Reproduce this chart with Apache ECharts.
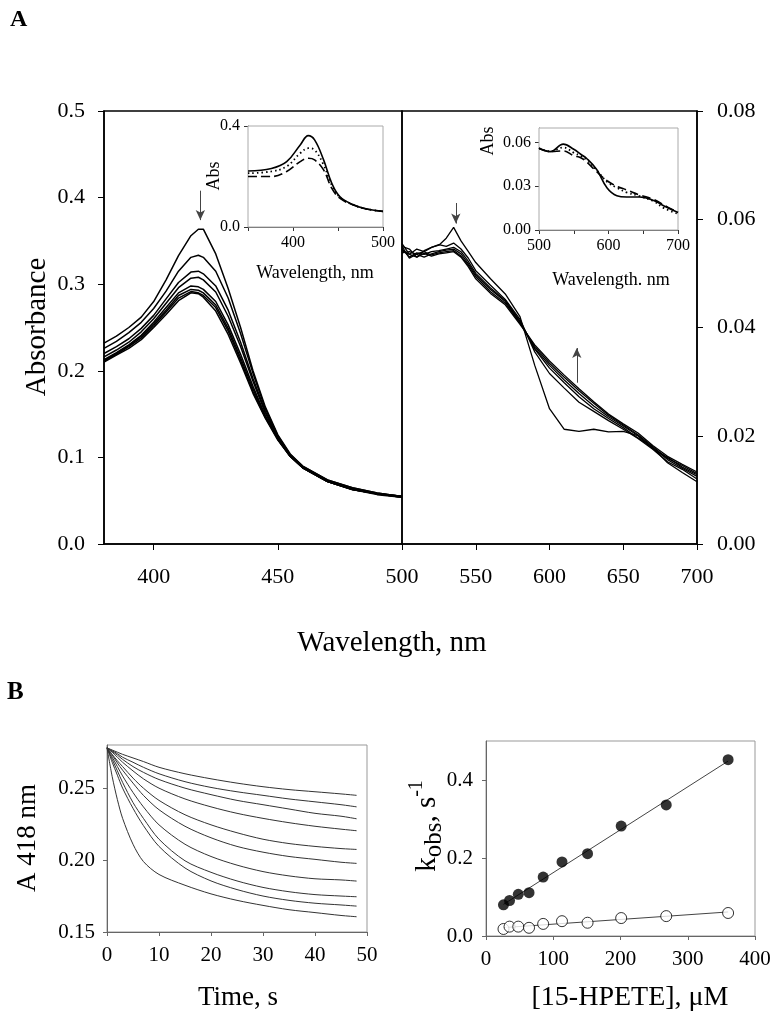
<!DOCTYPE html>
<html><head><meta charset="utf-8">
<script src="https://cdn.jsdelivr.net/npm/echarts@6/dist/echarts.min.js"></script>
<style>html,body{margin:0;padding:0;background:#fff}#c{width:779px;height:1022px}</style>
</head><body><div id="c"></div>
<script>
// ---------- Panel A, main left (Soret region) ----------
const wlSoret = [380,385,390,395,400,405,410,415,418,420,425,430,435,440,445,450,455,460,470,480,490,500];
const soret1 = [.232,.240,.250,.262,.280,.305,.333,.356,.3635,.3635,.335,.295,.250,.200,.158,.126,.104,.090,.074,.065,.059,.055];
const soret2 = [.226,.234,.244,.256,.272,.292,.315,.331,.3335,.331,.315,.284,.243,.197,.156,.125,.103,.090,.074,.065,.059,.055];
const soret3 = [.220,.228,.237,.249,.264,.283,.302,.314,.315,.312,.298,.270,.233,.191,.153,.124,.103,.089,.073,.064,.058,.055];
const soret4 = [.216,.224,.233,.245,.260,.278,.296,.307,.308,.305,.291,.263,.228,.188,.151,.123,.102,.089,.073,.064,.058,.055];
const soret5 = [.213,.221,.230,.241,.256,.273,.290,.298,.297,.294,.280,.253,.219,.182,.148,.122,.102,.088,.072,.063,.058,.054];
const soret6 = [.212,.220,.229,.240,.254,.270,.287,.294,.293,.290,.276,.249,.215,.179,.147,.121,.101,.088,.072,.063,.058,.054];
const soret7 = [.211,.219,.228,.238,.252,.268,.284,.2915,.290,.287,.273,.246,.212,.176,.146,.121,.101,.088,.072,.063,.057,.054];
const soret8 = [.210,.218,.226,.236,.250,.265,.281,.290,.289,.285,.269,.242,.209,.174,.145,.120,.101,.088,.072,.063,.058,.054];
const soretSpectra = [soret1,soret2,soret3,soret4,soret5,soret6,soret7,soret8];

// ---------- Panel A, main right (visible region) ----------
const wlVis = [500,505,510,515,520,525,530,535,540,545,550,560,570,580,590,600,610,620,630,640,650,660,670,680,690,700];
const vis1 = [.0555,.0535,.0545,.0540,.0548,.0552,.0565,.0585,.0560,.0540,.0520,.0490,.0462,.0420,.0330,.0250,.0212,.0208,.0212,.0207,.0208,.0200,.0178,.0150,.0132,.0115];
const vis2 = [.0550,.0545,.0530,.0542,.0548,.0553,.0550,.0556,.0545,.0528,.0505,.0478,.0452,.0415,.0355,.0315,.0288,.0262,.0245,.0228,.0212,.0195,.0175,.0152,.0138,.0120];
const vis3 = [.0545,.0530,.0538,.0535,.0540,.0542,.0545,.0548,.0540,.0522,.0500,.0473,.0450,.0412,.0360,.0325,.0298,.0272,.0250,.0232,.0215,.0196,.0178,.0156,.0140,.0125];
const vis4 = [.0538,.0540,.0535,.0530,.0536,.0540,.0543,.0545,.0536,.0518,.0497,.0470,.0448,.0410,.0362,.0330,.0303,.0278,.0255,.0235,.0218,.0200,.0176,.0160,.0142,.0128];
const vis5 = [.0550,.0528,.0536,.0540,.0534,.0538,.0540,.0542,.0532,.0515,.0494,.0466,.0445,.0408,.0365,.0334,.0308,.0283,.0260,.0238,.0220,.0202,.0180,.0158,.0145,.0130];
const vis6 = [.0542,.0535,.0530,.0537,.0532,.0536,.0538,.0540,.0530,.0512,.0490,.0463,.0442,.0406,.0368,.0338,.0312,.0287,.0263,.0240,.0222,.0205,.0182,.0162,.0147,.0133];
const visSpectra = [vis1,vis2,vis3,vis4,vis5,vis6];

// arrows [x, yFrom, yTo]
const arrowSoret = [418.8, 0.408, 0.374];
const arrowVisDown = [536.5, 0.0630, 0.0592];
const arrowVisUp = [618.5, 0.0298, 0.0362];

// ---------- Inset left ----------
const wlInsetL = [350,376,393,408,417,424,434,443,452,467,482,500];
const insetLSolid  = [.222,.232,.259,.325,.362,.345,.266,.174,.121,.088,.071,.062];
const insetLDotted = [.213,.220,.240,.292,.312,.305,.246,.167,.118,.088,.071,.062];
const insetLDashed = [.200,.200,.220,.259,.272,.266,.226,.154,.114,.087,.071,.062];

// ---------- Inset right ----------
const wlInsetR = [500,516,535,550,560,569,583,598,612,626,645,665,680,700];
const insetRSolid  = [.0561,.0538,.0589,.0554,.0520,.0489,.0415,.0288,.0235,.0226,.0226,.0203,.0165,.0120];
const insetRDotted = [.0561,.0540,.0566,.0530,.0508,.0480,.0410,.0330,.0290,.0258,.0232,.0196,.0150,.0110];
const insetRDashed = [.0561,.0538,.0543,.0510,.0496,.0465,.0400,.0338,.0300,.0275,.0240,.0210,.0170,.0120];

// ---------- Panel B left: A418 traces ----------
const timeS = [0,1,2,3,5,7,10,15,20,25,30,35,40,45,48];
const trace1  = [.278,.2765,.275,.2735,.271,.2685,.2645,.260,.2565,.2535,.251,.249,.2475,.246,.245];
const trace2  = [.278,.276,.274,.2715,.268,.2645,.260,.2545,.2505,.2475,.245,.2425,.2405,.2385,.237];
const trace3  = [.278,.2755,.273,.270,.265,.261,.256,.250,.2455,.2415,.2385,.2355,.2325,.2305,.2287];
const trace4  = [.278,.275,.2715,.268,.262,.2565,.250,.2425,.237,.2325,.229,.226,.2235,.2215,.2204];
const trace5  = [.278,.2735,.269,.265,.257,.250,.2415,.2315,.2245,.219,.2145,.2115,.2095,.208,.2074];
const trace6  = [.278,.273,.2675,.2625,.2535,.245,.235,.2235,.2155,.2095,.2055,.2025,.2005,.1985,.1977];
const trace7  = [.278,.2715,.265,.2585,.247,.237,.2245,.211,.2025,.1965,.192,.189,.187,.1862,.1854];
const trace8  = [.278,.270,.262,.254,.240,.229,.2145,.1995,.1915,.1855,.181,.178,.176,.175,.1745];
const trace9  = [.278,.268,.259,.250,.236,.224,.2095,.1945,.1855,.1795,.175,.172,.170,.1688,.168];
const trace10 = [.278,.258,.242,.229,.211,.199,.190,.1825,.1765,.172,.1685,.1655,.1635,.1615,.1606];
const traces = [trace1,trace2,trace3,trace4,trace5,trace6,trace7,trace8,trace9,trace10];

// ---------- Panel B right: kobs vs [15-HPETE] ----------
const hpete = [26,35,48,64,85,113,151,201,268,360];
const kobsFilled = [0.080,0.091,0.107,0.111,0.151,0.190,0.211,0.282,0.336,0.452];
const kobsOpen   = [0.018,0.024,0.024,0.021,0.031,0.038,0.034,0.046,0.051,0.059];

// ---------- tick label sets ----------
const soretTicks = [400,450];

function pairs(xs, ys){ return xs.map((x,i)=>[x, ys[i]]); }
function fitLine(xs, ys){
  const n = xs.length; let sx=0, sy=0, sxx=0, sxy=0;
  for (let i=0;i<n;i++){ sx+=xs[i]; sy+=ys[i]; sxx+=xs[i]*xs[i]; sxy+=xs[i]*ys[i]; }
  const b = (n*sxy - sx*sy)/(n*sxx - sx*sx), a = (sy - b*sx)/n;
  const x0 = Math.min(...xs), x1 = Math.max(...xs);
  return [[x0, a+b*x0],[x1, a+b*x1]];
}

const FONT = 'Liberation Serif';
const tStyle = (size) => ({fontFamily: FONT, fontSize: size, color: '#000'});
const series = [];

soretSpectra.forEach((s, i) => {
  const ser = {type:'line', xAxisIndex:0, yAxisIndex:0, data:pairs(wlSoret, s), symbol:'none',
    lineStyle:{color:'#000', width:1.5}, silent:true, animation:false, z:3};
  if (i === 0) ser.markLine = {silent:true, symbol:['none','arrow'], symbolSize:[7,10], animation:false,
    lineStyle:{color:'#444', width:1, type:'solid'}, label:{show:false},
    data:[[{coord:[arrowSoret[0], arrowSoret[1]]},{coord:[arrowSoret[0], arrowSoret[2]]}]]};
  series.push(ser);
});
visSpectra.forEach((s, i) => {
  const ser = {type:'line', xAxisIndex:1, yAxisIndex:1, data:pairs(wlVis, s), symbol:'none',
    lineStyle:{color:'#000', width:1.3}, silent:true, animation:false, z:3};
  if (i === 0) ser.markLine = {silent:true, symbol:['none','arrow'], symbolSize:[7,10], animation:false,
    lineStyle:{color:'#444', width:1, type:'solid'}, label:{show:false},
    data:[[{coord:[arrowVisDown[0], arrowVisDown[1]]},{coord:[arrowVisDown[0], arrowVisDown[2]]}],
          [{coord:[arrowVisUp[0], arrowVisUp[1]]},{coord:[arrowVisUp[0], arrowVisUp[2]]}]]};
  series.push(ser);
});
[[insetLSolid,'solid',1.6],[insetLDotted,[1.5,3],1.8],[insetLDashed,[9,4],1.6]].forEach(([s,t,w])=>{
  series.push({type:'line', xAxisIndex:2, yAxisIndex:2, data:pairs(wlInsetL, s), symbol:'none', smooth:0.4,
    lineStyle:{color:'#000', width:w, type:t}, silent:true, animation:false, z:5});
});
[[insetRSolid,'solid',1.6],[insetRDotted,[1.5,3],1.8],[insetRDashed,[9,4],1.6]].forEach(([s,t,w])=>{
  series.push({type:'line', xAxisIndex:3, yAxisIndex:3, data:pairs(wlInsetR, s), symbol:'none', smooth:0.4,
    lineStyle:{color:'#000', width:w, type:t}, silent:true, animation:false, z:5});
});
traces.forEach(s => {
  series.push({type:'line', xAxisIndex:4, yAxisIndex:4, data:pairs(timeS, s), symbol:'none', smooth:0.3,
    lineStyle:{color:'#333', width:1}, silent:true, animation:false});
});
series.push({type:'line', xAxisIndex:5, yAxisIndex:5, data:fitLine(hpete, kobsFilled), symbol:'none',
  lineStyle:{color:'#444', width:1}, silent:true, animation:false, z:2});
series.push({type:'line', xAxisIndex:5, yAxisIndex:5, data:fitLine(hpete, kobsOpen), symbol:'none',
  lineStyle:{color:'#444', width:1}, silent:true, animation:false, z:2});
series.push({type:'scatter', xAxisIndex:5, yAxisIndex:5, data:pairs(hpete, kobsFilled), symbol:'circle', symbolSize:11,
  itemStyle:{color:'#000'}, silent:true, animation:false, z:4});
series.push({type:'scatter', xAxisIndex:5, yAxisIndex:5, data:pairs(hpete, kobsOpen), symbol:'circle', symbolSize:11,
  itemStyle:{color:'#fff', borderColor:'#000', borderWidth:1}, silent:true, animation:false, z:4});

const blackLine = {show:true, lineStyle:{color:'#000', width:1.5}};
const insetLine = {show:true, lineStyle:{color:'#555', width:1}};
const grayLine = {show:true, lineStyle:{color:'#666', width:1}};

const option = {
  animation:false,
  backgroundColor:'#fff',
  grid:[
    {left:104, top:111, width:298, height:433, show:true, borderColor:'#000', borderWidth:1.5, backgroundColor:'transparent'},
    {left:402, top:111, width:295, height:433, show:true, borderColor:'#000', borderWidth:1.5, backgroundColor:'transparent'},
    {left:248, top:126, width:135, height:101, show:true, borderColor:'#aaa', borderWidth:1, backgroundColor:'#fff', z:4},
    {left:539, top:128, width:139, height:102, show:true, borderColor:'#aaa', borderWidth:1, backgroundColor:'#fff', z:4},
    {left:107, top:745, width:260, height:187, show:true, borderColor:'#999', borderWidth:1},
    {left:486, top:741, width:269, height:195, show:true, borderColor:'#999', borderWidth:1}
  ],
  xAxis:[
    {type:'value', gridIndex:0, min:380, max:500, axisLine:blackLine, splitLine:{show:false},
      axisTick:{show:true, customValues:soretTicks, length:6, lineStyle:{color:'#000', width:1}},
      axisLabel:{customValues:soretTicks, margin:22, ...tStyle(22)}},
    {type:'value', gridIndex:1, min:500, max:700, interval:50, axisLine:blackLine, splitLine:{show:false},
      axisTick:{show:true, length:6, lineStyle:{color:'#000', width:1}},
      axisLabel:{margin:22, showMinLabel:true, showMaxLabel:true, ...tStyle(22)}},
    {type:'value', gridIndex:2, min:350, max:500, interval:50, axisLine:insetLine, splitLine:{show:false},
      axisTick:{show:true, length:4, lineStyle:{color:'#333'}},
      axisLabel:{margin:8, formatter:(v)=> (v%100===0 && v>=400) ? String(v) : '', ...tStyle(16)}},
    {type:'value', gridIndex:3, min:500, max:700, interval:50, axisLine:insetLine, splitLine:{show:false},
      axisTick:{show:true, length:4, lineStyle:{color:'#333'}},
      axisLabel:{margin:8, formatter:(v)=> (v%100===0) ? String(v) : '', ...tStyle(16)}},
    {type:'value', gridIndex:4, min:0, max:50, interval:10, axisLine:grayLine, splitLine:{show:false},
      axisTick:{show:true, length:4, lineStyle:{color:'#666'}},
      axisLabel:{margin:13, ...tStyle(21)}},
    {type:'value', gridIndex:5, min:0, max:400, interval:100, axisLine:grayLine, splitLine:{show:false},
      axisTick:{show:true, length:4, lineStyle:{color:'#666'}},
      axisLabel:{margin:13, ...tStyle(21)}}
  ],
  yAxis:[
    {type:'value', gridIndex:0, min:0, max:0.5, interval:0.1, axisLine:blackLine, splitLine:{show:false},
      axisTick:{show:true, length:6, lineStyle:{color:'#000', width:1}},
      axisLabel:{margin:19, formatter:(v)=>v.toFixed(1), ...tStyle(22)}},
    {type:'value', gridIndex:1, position:'right', min:0, max:0.08, interval:0.02, axisLine:blackLine, splitLine:{show:false},
      axisTick:{show:true, length:6, lineStyle:{color:'#000', width:1}},
      axisLabel:{margin:20, formatter:(v)=>v.toFixed(2), ...tStyle(22)}},
    {type:'value', gridIndex:2, min:0, max:0.4, interval:0.4, axisLine:insetLine, splitLine:{show:false},
      axisTick:{show:true, length:4, lineStyle:{color:'#333'}},
      axisLabel:{margin:8, formatter:(v)=>v.toFixed(1), ...tStyle(16)}},
    {type:'value', gridIndex:3, min:0, max:0.07, interval:0.03, axisLine:insetLine, splitLine:{show:false},
      axisTick:{show:true, length:4, lineStyle:{color:'#333'}},
      axisLabel:{margin:8, showMaxLabel:false, formatter:(v)=>v.toFixed(2), ...tStyle(16)}},
    {type:'value', gridIndex:4, min:0.15, max:0.28, interval:0.05, axisLine:grayLine, splitLine:{show:false},
      axisTick:{show:true, length:4, lineStyle:{color:'#666'}},
      axisLabel:{margin:12, showMaxLabel:false, formatter:(v)=>v.toFixed(2), ...tStyle(21)}},
    {type:'value', gridIndex:5, min:0, max:0.5, interval:0.2, axisLine:grayLine, splitLine:{show:false},
      axisTick:{show:true, length:4, lineStyle:{color:'#666'}},
      axisLabel:{margin:13, showMaxLabel:false, formatter:(v)=>v.toFixed(1), ...tStyle(21)}}
  ],
  graphic:[
    {type:'text', x:10, y:20, style:{text:'A', font:'bold 24px "Liberation Serif"', fill:'#000', textVerticalAlign:'middle'}},
    {type:'text', x:7, y:693, style:{text:'B', font:'bold 25px "Liberation Serif"', fill:'#000', textVerticalAlign:'middle'}},
    {type:'text', x:37, y:327, rotation:Math.PI/2, style:{text:'Absorbance', font:'29px "Liberation Serif"', fill:'#000', textAlign:'center', textVerticalAlign:'middle'}},
    {type:'text', x:392, y:643, style:{text:'Wavelength, nm', font:'29px "Liberation Serif"', fill:'#000', textAlign:'center', textVerticalAlign:'middle'}},
    {type:'text', x:214, y:176, rotation:Math.PI/2, z:10, style:{text:'Abs', font:'18px "Liberation Serif"', fill:'#000', textAlign:'center', textVerticalAlign:'middle'}},
    {type:'text', x:315, y:273, z:10, style:{text:'Wavelength, nm', font:'18px "Liberation Serif"', fill:'#000', textAlign:'center', textVerticalAlign:'middle'}},
    {type:'text', x:488, y:141, rotation:Math.PI/2, z:10, style:{text:'Abs', font:'18px "Liberation Serif"', fill:'#000', textAlign:'center', textVerticalAlign:'middle'}},
    {type:'text', x:611, y:280, z:10, style:{text:'Wavelength. nm', font:'18px "Liberation Serif"', fill:'#000', textAlign:'center', textVerticalAlign:'middle'}},
    {type:'text', x:28, y:838, rotation:Math.PI/2, style:{text:'A 418 nm', font:'27px "Liberation Serif"', fill:'#000', textAlign:'center', textVerticalAlign:'middle'}},
    {type:'text', x:238, y:998, style:{text:'Time, s', font:'27px "Liberation Serif"', fill:'#000', textAlign:'center', textVerticalAlign:'middle'}},
    {type:'text', x:427, y:826, rotation:Math.PI/2, style:{
      text:'{k|k}{o|obs}{t|, s}{s|-1}', fill:'#000', textAlign:'center', textVerticalAlign:'middle',
      rich:{
        k:{fontFamily:FONT, fontSize:29, lineHeight:40, verticalAlign:'middle'},
        o:{fontFamily:FONT, fontSize:25, lineHeight:40, verticalAlign:'bottom'},
        t:{fontFamily:FONT, fontSize:29, lineHeight:40, verticalAlign:'middle'},
        s:{fontFamily:FONT, fontSize:20, lineHeight:40, verticalAlign:'top'}
      }}},
    {type:'text', x:630, y:998, style:{text:'[15-HPETE], \u03bcM', font:'28px "Liberation Serif"', fill:'#000', textAlign:'center', textVerticalAlign:'middle'}}
  ],
  series:series
};

const chart = echarts.init(document.getElementById('c'), null, {renderer:'canvas'});
chart.setOption(option);
</script>
</body></html>
